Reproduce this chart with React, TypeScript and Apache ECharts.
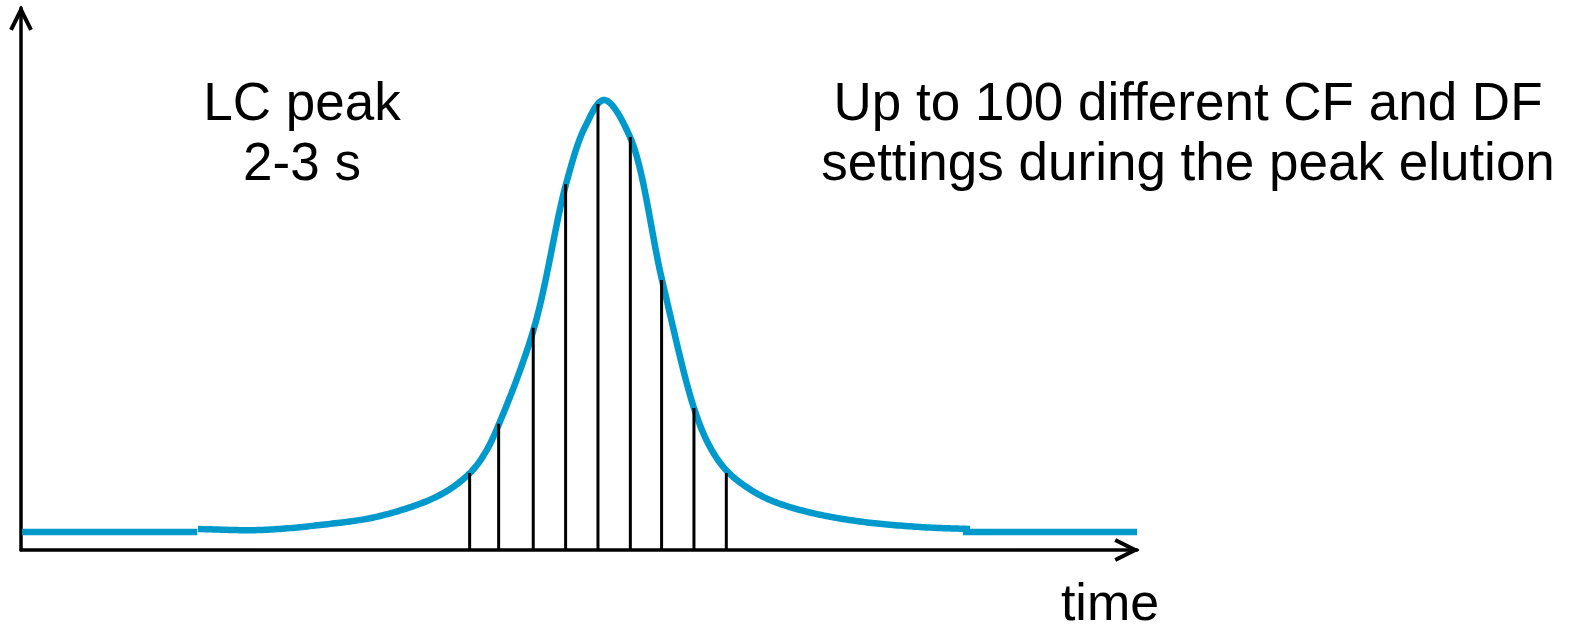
import React, { useEffect, useRef } from "react";
import * as echarts from "echarts";

// Time axis in arbitrary units (0–100), signal in arbitrary units (0–100)
const baselineLeftTime = [0.1, 15.8];
const baselineLeftSignal = [3.3, 3.3];

const curveTime = [15.86, 21.42, 26.79, 32.17, 37.54, 40.23, 41.58, 42.83, 45.97, 48.84, 50.54, 52.24, 54.57, 57.44, 60.3, 61.74, 63.17, 64.87, 67.11, 70.7, 75.18, 80.56, 85.04];
const curveSignal = [3.87, 3.69, 4.61, 6.27, 10.15, 14.21, 17.9, 23.25, 40.96, 67.53, 78.04, 83.03, 76.2, 49.82, 26.2, 19.0, 14.76, 11.81, 9.23, 6.92, 5.26, 4.24, 3.87];

const baselineRightTime = [84.4, 100];
const baselineRightSignal = [3.3, 3.3];

const samplingTime = [40.2, 42.8, 45.9, 48.8, 51.7, 54.6, 57.4, 60.3, 63.2];
const samplingSignal = [14.2, 23.3, 41.0, 67.5, 82.3, 76.2, 49.8, 26.2, 14.2];

const leftLabel = ["LC peak", "2-3 s"];
const rightLabel = ["Up to 100 different CF and DF", "settings during the peak elution"];
const xAxisName = "time";

const zip = (a: number[], b: number[]) => a.map((v, i) => [v, b[i]]);

const BLUE = "#0099CC";
const FONT = "'Liberation Sans', Arial, sans-serif";
const ARROW = "path://M10,-4.47 L21.79,19.11 L18.21,20.89 L10,4.47 L1.79,20.89 L-1.79,19.11 Z";

// Centripetal Catmull-Rom spline through pixel points
function catmullRom(pts: number[][], steps = 24): number[][] {
  const n = pts.length;
  if (n < 3) return pts;
  const ext = [
    [2 * pts[0][0] - pts[1][0], 2 * pts[0][1] - pts[1][1]],
    ...pts,
    [2 * pts[n - 1][0] - pts[n - 2][0], 2 * pts[n - 1][1] - pts[n - 2][1]],
  ];
  const out: number[][] = [];
  const dist = (a: number[], b: number[]) => Math.max(1e-4, Math.pow(Math.hypot(b[0] - a[0], b[1] - a[1]), 0.5));
  for (let i = 1; i < ext.length - 2; i++) {
    const p0 = ext[i - 1], p1 = ext[i], p2 = ext[i + 1], p3 = ext[i + 2];
    const t0 = 0;
    const t1 = t0 + dist(p0, p1);
    const t2 = t1 + dist(p1, p2);
    const t3 = t2 + dist(p2, p3);
    for (let k = 0; k <= steps; k++) {
      if (k === 0 && i > 1) continue;
      const t = t1 + ((t2 - t1) * k) / steps;
      const lerp = (a: number[], b: number[], ta: number, tb: number) => [
        ((tb - t) / (tb - ta)) * a[0] + ((t - ta) / (tb - ta)) * b[0],
        ((tb - t) / (tb - ta)) * a[1] + ((t - ta) / (tb - ta)) * b[1],
      ];
      const a1 = lerp(p0, p1, t0, t1);
      const a2 = lerp(p1, p2, t1, t2);
      const a3 = lerp(p2, p3, t2, t3);
      const b1 = lerp(a1, a2, t0, t2);
      const b2 = lerp(a2, a3, t1, t3);
      out.push(lerp(b1, b2, t1, t2));
    }
  }
  return out;
}

export default function App() {
  const ref = useRef<HTMLDivElement>(null);
  useEffect(() => {
    if (!ref.current) return;
    const chart = echarts.init(ref.current, null, { renderer: "svg" });
    const axisLine = {
      show: true,
      lineStyle: { color: "#000", width: 3.5 },
      symbol: ["none", ARROW],
      symbolSize: [23.6, 25.4],
      symbolOffset: [0, -10],
    };
    const blueLine = { color: BLUE, width: 6.5, cap: "butt" };
    chart.setOption({
      animation: false,
      backgroundColor: "#fff",
      grid: { left: 21, top: 8, width: 1116, height: 542, containLabel: false, outerBoundsMode: "none" },
      xAxis: {
        type: "value",
        min: 0,
        max: 100,
        axisLine,
        axisTick: { show: false },
        axisLabel: { show: false },
        splitLine: { show: false },
      },
      yAxis: {
        type: "value",
        min: 0,
        max: 100,
        axisLine,
        axisTick: { show: false },
        axisLabel: { show: false },
        splitLine: { show: false },
      },
      series: [
        {
          type: "line",
          data: zip(baselineLeftTime, baselineLeftSignal),
          symbol: "none",
          lineStyle: blueLine,
          z: 2,
        },
        {
          type: "custom",
          data: zip(curveTime, curveSignal),
          z: 2,
          clip: false,
          renderItem: (params: any, api: any) => {
            if (params.dataIndexInside !== 0) return null;
            const n = params.dataInsideLength;
            const pts: number[][] = [];
            for (let i = 0; i < n; i++) {
              pts.push(api.coord([api.value(0, i), api.value(1, i)]));
            }
            return {
              type: "polyline",
              shape: { points: catmullRom(pts) },
              style: { stroke: BLUE, lineWidth: 6.5, fill: "none", lineJoin: "round" },
            };
          },
        },
        {
          type: "line",
          data: zip(baselineRightTime, baselineRightSignal),
          symbol: "none",
          lineStyle: blueLine,
          z: 2,
        },
        {
          type: "bar",
          data: zip(samplingTime, samplingSignal),
          barWidth: 3,
          itemStyle: { color: "#000" },
          z: 3,
        },
      ],
      graphic: [
        {
          type: "text",
          x: 302,
          y: 71,
          style: {
            text: leftLabel.join("\n"),
            font: `53px ${FONT}`,
            fill: "#000",
            align: "center",
            verticalAlign: "top",
            lineHeight: 60,
          },
        },
        {
          type: "text",
          x: 1188,
          y: 71,
          style: {
            text: rightLabel.join("\n"),
            font: `53px ${FONT}`,
            fill: "#000",
            align: "center",
            verticalAlign: "top",
            lineHeight: 60,
          },
        },
        {
          type: "text",
          x: 1110,
          y: 602,
          style: {
            text: xAxisName,
            font: `52px ${FONT}`,
            fill: "#000",
            align: "center",
            verticalAlign: "middle",
            lineHeight: 52,
          },
        },
      ],
    });
    return () => chart.dispose();
  }, []);
  return (
    <div
      ref={ref}
      style={{ position: "fixed", left: 0, top: 0, width: 1570, height: 633, background: "#fff" }}
    />
  );
}
